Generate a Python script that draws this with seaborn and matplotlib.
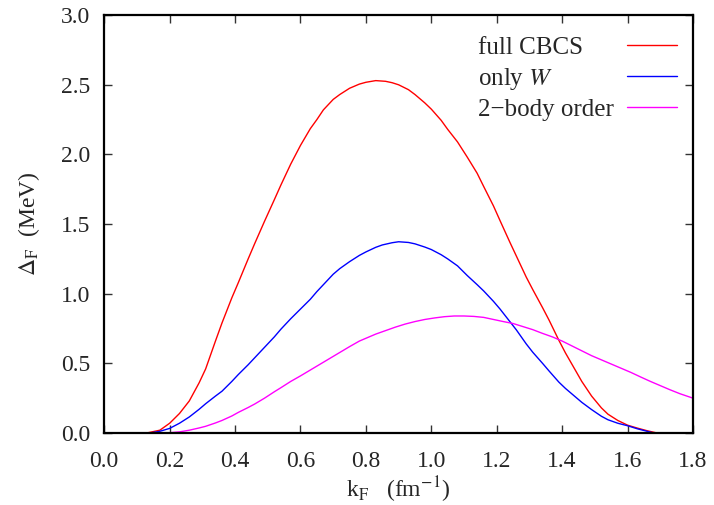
import matplotlib
matplotlib.use("Agg")
import matplotlib.pyplot as plt
from matplotlib.ticker import FormatStrFormatter
import seaborn as sns
import pandas as pd

# full CBCS
kf_full = [0.13, 0.17, 0.20, 0.23, 0.26, 0.29, 0.31, 0.34, 0.36, 0.39, 0.41, 0.44,
           0.46, 0.49, 0.52, 0.54, 0.57, 0.60, 0.63, 0.65, 0.67, 0.70, 0.72, 0.75,
           0.78, 0.80, 0.83, 0.86, 0.88, 0.90, 0.93, 0.95, 0.98, 1.00, 1.03, 1.05,
           1.08, 1.11, 1.14, 1.16, 1.19, 1.21, 1.24, 1.26, 1.29, 1.31, 1.34, 1.36,
           1.39, 1.41, 1.44, 1.46, 1.49, 1.52, 1.54, 1.57, 1.60, 1.63, 1.66, 1.69]
gap_full = [0.0, 0.02, 0.07, 0.14, 0.23, 0.36, 0.46, 0.66, 0.79, 0.97, 1.08, 1.25,
            1.36, 1.52, 1.675, 1.78, 1.93, 2.065, 2.185, 2.25, 2.32, 2.395, 2.43, 2.475,
            2.505, 2.518, 2.53, 2.525, 2.515, 2.50, 2.465, 2.43, 2.37, 2.325, 2.245, 2.18,
            2.09, 1.98, 1.865, 1.77, 1.63, 1.525, 1.37, 1.27, 1.12, 1.03, 0.90, 0.81,
            0.665, 0.575, 0.452, 0.37, 0.265, 0.18, 0.135, 0.09, 0.056, 0.035, 0.016, 0.0]

# only W
kf_w = [0.14, 0.17, 0.20, 0.23, 0.26, 0.29, 0.31, 0.34, 0.36, 0.39, 0.41, 0.44,
        0.46, 0.49, 0.52, 0.54, 0.57, 0.60, 0.63, 0.65, 0.67, 0.70, 0.72, 0.75,
        0.78, 0.80, 0.83, 0.85, 0.88, 0.90, 0.93, 0.95, 0.98, 1.00, 1.03, 1.05,
        1.08, 1.11, 1.14, 1.16, 1.19, 1.21, 1.24, 1.26, 1.29, 1.31, 1.34, 1.36,
        1.39, 1.41, 1.44, 1.46, 1.49, 1.52, 1.54, 1.57, 1.60, 1.63, 1.65, 1.68]
gap_w = [0.0, 0.012, 0.033, 0.07, 0.115, 0.17, 0.21, 0.265, 0.30, 0.37, 0.42, 0.49,
         0.54, 0.615, 0.69, 0.745, 0.82, 0.89, 0.96, 1.015, 1.065, 1.14, 1.18, 1.23,
         1.275, 1.30, 1.333, 1.35, 1.366, 1.373, 1.368, 1.358, 1.335, 1.317, 1.28, 1.25,
         1.20, 1.13, 1.065, 1.02, 0.945, 0.89, 0.80, 0.74, 0.64, 0.58, 0.50, 0.445,
         0.365, 0.32, 0.26, 0.22, 0.168, 0.12, 0.095, 0.07, 0.052, 0.03, 0.018, 0.0]

# 2-body order
kf_2b = [0.19, 0.23, 0.26, 0.29, 0.31, 0.34, 0.36, 0.39, 0.41, 0.44, 0.46, 0.49,
         0.52, 0.54, 0.57, 0.60, 0.63, 0.65, 0.68, 0.70, 0.73, 0.75, 0.78, 0.80,
         0.83, 0.86, 0.89, 0.92, 0.95, 0.98, 1.01, 1.04, 1.07, 1.10, 1.13, 1.16,
         1.19, 1.22, 1.25, 1.28, 1.31, 1.34, 1.37, 1.40, 1.43, 1.46, 1.49, 1.52,
         1.55, 1.58, 1.61, 1.64, 1.67, 1.70, 1.73, 1.76, 1.80]
gap_2b = [0.0, 0.008, 0.02, 0.036, 0.048, 0.072, 0.09, 0.122, 0.148, 0.183, 0.208, 0.25,
          0.296, 0.325, 0.37, 0.41, 0.452, 0.48, 0.522, 0.55, 0.592, 0.62, 0.66, 0.68,
          0.71, 0.735, 0.76, 0.782, 0.80, 0.815, 0.826, 0.835, 0.84, 0.84, 0.837, 0.83,
          0.815, 0.80, 0.786, 0.764, 0.742, 0.715, 0.69, 0.66, 0.625, 0.59, 0.555, 0.525,
          0.495, 0.465, 0.435, 0.402, 0.37, 0.34, 0.31, 0.282, 0.25]

labels = ["full CBCS", "only $W$", "2\u2212body order"]
colors = ["#ff0000", "#0000ff", "#ff00ff"]

df = pd.concat([
    pd.DataFrame({"kF": kf_full, "gap": gap_full, "model": labels[0]}),
    pd.DataFrame({"kF": kf_w, "gap": gap_w, "model": labels[1]}),
    pd.DataFrame({"kF": kf_2b, "gap": gap_2b, "model": labels[2]}),
])

sns.set_style("ticks")
plt.rcParams["font.family"] = ["Liberation Serif", "DejaVu Serif"]
plt.rcParams["mathtext.fontset"] = "stix"

fs = 17
fig, ax = plt.subplots(figsize=(7.14, 5.05), dpi=100)
fig.subplots_adjust(left=0.146, right=0.9706, top=0.970, bottom=0.1426)

sns.lineplot(data=df, x="kF", y="gap", hue="model", palette=colors,
             linewidth=1.0, sort=False, estimator=None, ax=ax)

ax.set_xlim(0, 1.8)
ax.set_ylim(0, 3.0)
ax.set_xticks([0.0, 0.2, 0.4, 0.6, 0.8, 1.0, 1.2, 1.4, 1.6, 1.8])
ax.set_yticks([0.0, 0.5, 1.0, 1.5, 2.0, 2.5, 3.0])
ax.xaxis.set_major_formatter(FormatStrFormatter("%.1f"))
ax.yaxis.set_major_formatter(FormatStrFormatter("%.1f"))
ax.tick_params(direction="in", length=6, width=1, top=True, right=True,
               labelsize=fs, color="#333333")
ax.tick_params(axis="x", pad=13)
ax.tick_params(axis="y", pad=10)
for s in ax.spines.values():
    s.set_linewidth(1.6)
    s.set_color("black")

ax.set_xlabel(r"k$_{\rm F}$   (fm$^{-1}$)", fontsize=fs, labelpad=2)
ax.set_ylabel(r"$\Delta_{\rm F}$  (MeV)", fontsize=fs, labelpad=14)

leg = ax.legend(loc="upper right", bbox_to_anchor=(1.0, 0.988), frameon=False,
                markerfirst=False, fontsize=18, handlelength=2.0, handletextpad=0.5,
                labelspacing=0.27, borderpad=0.3, borderaxespad=0.35, title=None)

# gnuplot style key: text left aligned, samples right aligned
fig.canvas.draw()
renderer = fig.canvas.get_renderer()
widths = [t.get_window_extent(renderer).width for t in leg.get_texts()]
column = leg._legend_handle_box.get_children()[0]
for row, w in zip(column.get_children(), widths):
    row.sep += (max(widths) - w) * 72.0 / fig.dpi

fig.savefig("out.png", dpi=100)
